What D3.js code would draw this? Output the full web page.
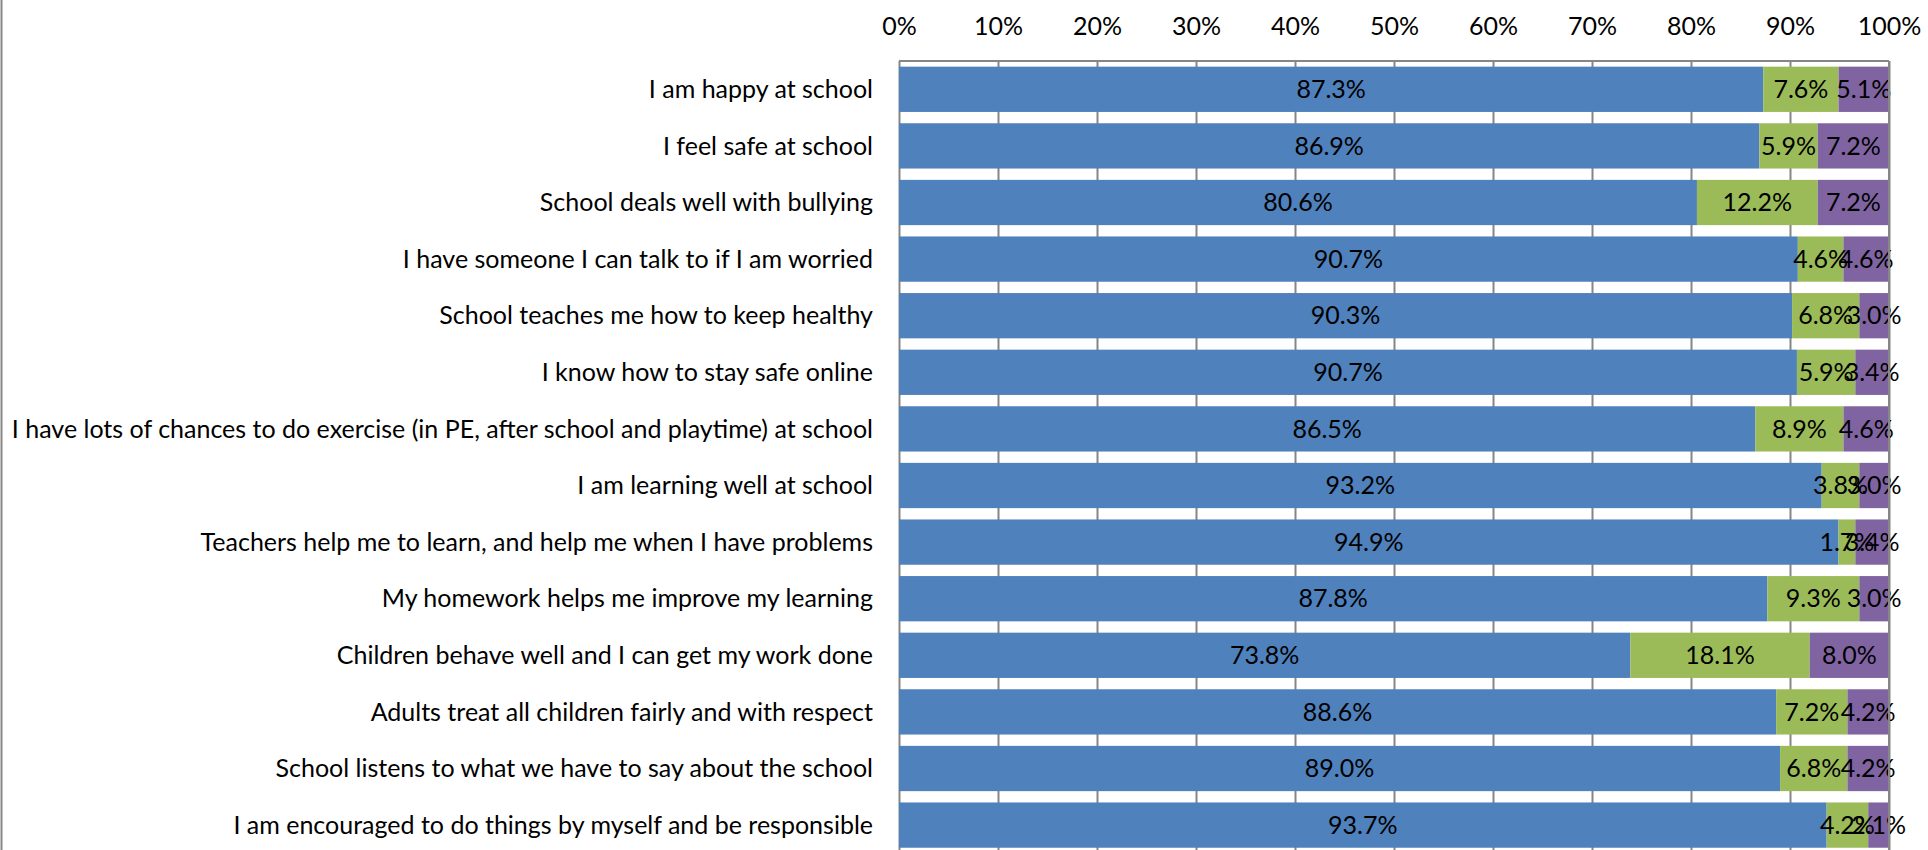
<!DOCTYPE html>
<html>
<head>
<meta charset="utf-8">
<script src="https://cdn.jsdelivr.net/npm/d3@7"></script>
<style>
  body { margin: 0; background: #fff; }
  text { font-family: Lato, "Open Sans", sans-serif; fill: #000; }
</style>
</head>
<body>
<div id="chart"></div>
<script>
// categories, top to bottom
var categories = [
  "I am happy at school",
  "I feel safe at school",
  "School deals well with bullying",
  "I have someone I can talk to if I am worried",
  "School teaches me how to keep healthy",
  "I know how to stay safe online",
  "I have lots of chances to do exercise (in PE, after school and playtime) at school",
  "I am learning well at school",
  "Teachers help me to learn, and help me when I have problems",
  "My homework helps me improve my learning",
  "Children behave well and I can get my work done",
  "Adults treat all children fairly and with respect",
  "School listens to what we have to say about the school",
  "I am encouraged to do things by myself and be responsible"
];
// three series (percent)
var agree    = [87.3, 86.9, 80.6, 90.7, 90.3, 90.7, 86.5, 93.2, 94.9, 87.8, 73.8, 88.6, 89.0, 93.7];
var notSure  = [7.6, 5.9, 12.2, 4.6, 6.8, 5.9, 8.9, 3.8, 1.7, 9.3, 18.1, 7.2, 6.8, 4.2];
var disagree = [5.1, 7.2, 7.2, 4.6, 3.0, 3.4, 4.6, 3.0, 3.4, 3.0, 8.0, 4.2, 4.2, 2.1];
var xTicks = [0, 0.1, 0.2, 0.3, 0.4, 0.5, 0.6, 0.7, 0.8, 0.9, 1];

var keys = ["agree", "notSure", "disagree"];
var colors = {agree: "#4f81bd", notSure: "#9bbb59", disagree: "#8064a2"};

var rows = categories.map(function(c, i){
  return {cat: c, agree: agree[i], notSure: notSure[i], disagree: disagree[i]};
});

var W = 1928, H = 850;
var plotLeft = 899, plotRight = 1889, plotTop = 61, step = 56.6;
var fontSize = 25;

var svg = d3.select("#chart").append("svg").attr("width", W).attr("height", H);

var x = d3.scaleLinear().domain([0, 1]).range([plotLeft, plotRight]);
var y = d3.scaleBand().domain(categories)
  .range([plotTop, plotTop + step * categories.length])
  .paddingInner(0.2).paddingOuter(0.1);
var plotBottom = y.range()[1];

// outer left border of chart area
svg.append("line").attr("x1", 1.5).attr("x2", 1.5).attr("y1", 0).attr("y2", H)
  .attr("stroke", "#868686").attr("stroke-width", 2);

// gridlines + top tick labels
var axis = svg.append("g").attr("transform", "translate(0," + plotTop + ")")
  .call(d3.axisTop(x).tickValues(xTicks).tickFormat(d3.format(".0%"))
    .tickSize(-(plotBottom - plotTop)).tickPadding(26));
axis.select(".domain").remove();
axis.selectAll(".tick line").attr("stroke", "#868686").attr("stroke-width", 2);
axis.selectAll(".tick text").attr("font-size", fontSize).attr("font-family", "Lato, sans-serif").attr("fill", "#000");

// plot frame top
svg.append("line").attr("x1", plotLeft).attr("x2", plotRight).attr("y1", plotTop).attr("y2", plotTop)
  .attr("stroke", "#868686").attr("stroke-width", 2);

var stack = d3.stack().keys(keys).offset(d3.stackOffsetExpand);
var series = stack(rows);

var layer = svg.selectAll("g.series").data(series).enter().append("g")
  .attr("class", "series").attr("fill", function(d){ return colors[d.key]; });

layer.selectAll("rect").data(function(d){ return d; }).enter().append("rect")
  .attr("x", function(d){ return x(d[0]); })
  .attr("width", function(d){ return x(d[1]) - x(d[0]); })
  .attr("y", function(d){ return y(d.data.cat); })
  .attr("height", y.bandwidth());

// value labels
series.forEach(function(s){
  svg.append("g").selectAll("text").data(s).enter().append("text")
    .attr("x", function(d){ return (x(d[0]) + x(d[1])) / 2; })
    .attr("y", function(d){ return y(d.data.cat) + y.bandwidth() / 2; })
    .attr("dy", "0.35em")
    .attr("text-anchor", "middle")
    .attr("font-size", fontSize)
    .text(function(d){ return d.data[s.key].toFixed(1) + "%"; });
});

// category labels
svg.append("g").selectAll("text").data(categories).enter().append("text")
  .attr("x", 873)
  .attr("y", function(d){ return y(d) + y.bandwidth() / 2; })
  .attr("dy", "0.35em")
  .attr("text-anchor", "end")
  .attr("font-size", fontSize)
  .text(function(d){ return d; });

// right frame edge
svg.append("line").attr("x1", plotRight).attr("x2", plotRight).attr("y1", plotTop).attr("y2", plotBottom)
  .attr("stroke", "#868686").attr("stroke-width", 2);
</script>
</body>
</html>
